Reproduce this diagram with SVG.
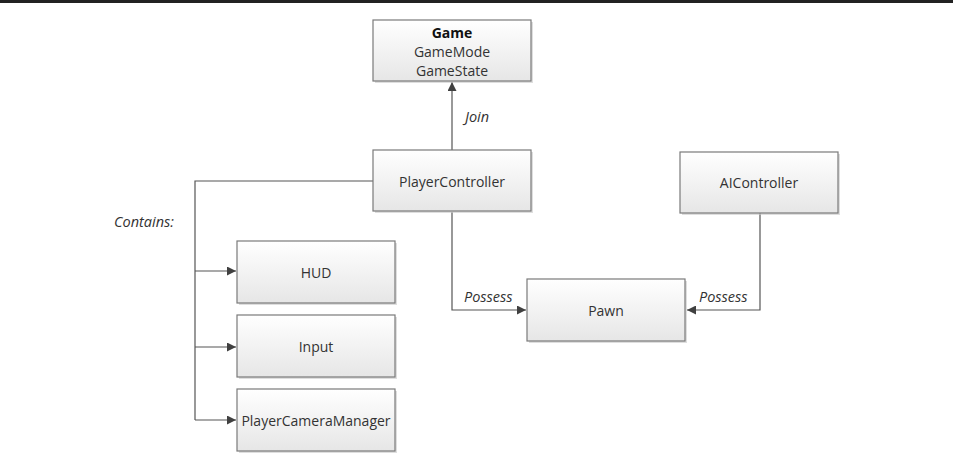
<svg xmlns="http://www.w3.org/2000/svg" width="953" height="456" viewBox="0 0 953 456">
<defs>
<linearGradient id="g" x1="0" y1="0" x2="0" y2="1">
<stop offset="0" stop-color="#ffffff"/>
<stop offset="1" stop-color="#e6e6e6"/>
</linearGradient>
<marker id="ah" viewBox="0 0 10 10" refX="10" refY="5" markerWidth="9" markerHeight="9" markerUnits="userSpaceOnUse" orient="auto">
<path d="M0,0 L10,5 L0,10 z" fill="#404040"/>
</marker>
<style>
.box{fill:url(#g);stroke:#7a7a7a;stroke-width:1.2}
.sh{fill:#c8c8c8;opacity:0.6}
.t{font-family:"Open Sans","Liberation Sans",sans-serif;font-size:14px;fill:#333;text-anchor:middle;dominant-baseline:central}
.b{font-weight:bold;fill:#111}
.i{font-family:"Open Sans","Liberation Sans",sans-serif;font-size:14.5px;fill:#333;font-style:italic;dominant-baseline:central}
.c{fill:none;stroke:#555;stroke-width:1.2}
</style>
</defs>
<rect width="953" height="456" fill="#ffffff"/>
<rect x="0" y="0" width="953" height="3" fill="#222"/>
<g id="connectors">
<path class="c" d="M452,150 V82" marker-end="url(#ah)"/>
<path class="c" d="M373,181 H195 V420"/>
<path class="c" d="M195,271 H236" marker-end="url(#ah)"/>
<path class="c" d="M195,347 H236" marker-end="url(#ah)"/>
<path class="c" d="M195,420 H236" marker-end="url(#ah)"/>
<path class="c" d="M452,212 V310 H526" marker-end="url(#ah)"/>
<path class="c" d="M760,213 V310 H687" marker-end="url(#ah)"/>
<text class="i" x="465" y="116">Join</text>
<text class="i" x="114" y="221">Contains:</text>
<text class="i" x="464" y="296">Possess</text>
<text class="i" x="699" y="296">Possess</text>
</g>
<g id="game">
<rect class="sh" x="375" y="22" width="158" height="61"/>
<rect class="box" x="373" y="20" width="158" height="61"/>
<text class="t b" x="452" y="32">Game</text>
<text class="t" x="452" y="51">GameMode</text>
<text class="t" x="452" y="70">GameState</text>
</g>
<g id="playercontroller">
<rect class="sh" x="375" y="152" width="158" height="61"/>
<rect class="box" x="373" y="150" width="158" height="61"/>
<text class="t" x="452" y="181">PlayerController</text>
</g>
<g id="aicontroller">
<rect class="sh" x="682" y="154" width="158" height="61"/>
<rect class="box" x="680" y="152" width="158" height="61"/>
<text class="t" x="759" y="182">AIController</text>
</g>
<g id="hud">
<rect class="sh" x="239" y="243" width="158" height="62"/>
<rect class="box" x="237" y="241" width="158" height="62"/>
<text class="t" x="316" y="272">HUD</text>
</g>
<g id="input">
<rect class="sh" x="239" y="317" width="158" height="62"/>
<rect class="box" x="237" y="315" width="158" height="62"/>
<text class="t" x="316" y="346">Input</text>
</g>
<g id="playercameramanager">
<rect class="sh" x="239" y="391" width="158" height="62"/>
<rect class="box" x="237" y="389" width="158" height="62"/>
<text class="t" x="316" y="420">PlayerCameraManager</text>
</g>
<g id="pawn">
<rect class="sh" x="529" y="281" width="158" height="62"/>
<rect class="box" x="527" y="279" width="158" height="62"/>
<text class="t" x="606" y="310">Pawn</text>
</g>
</svg>
